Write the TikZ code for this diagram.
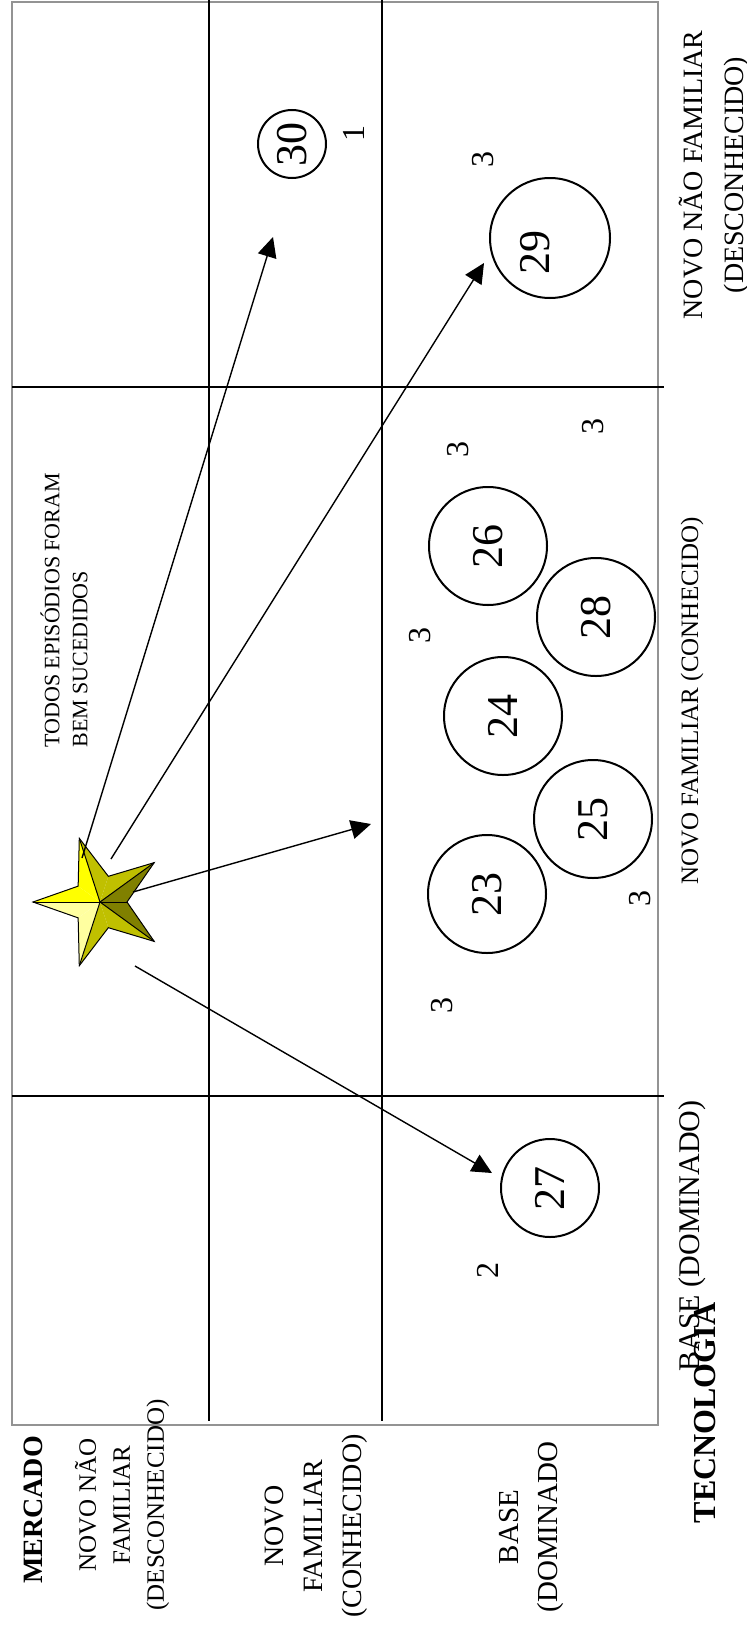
\documentclass[tikz,border=0pt]{standalone}
\usepackage{fontspec}
\setmainfont{Liberation Serif}
\usetikzlibrary{arrows.meta}

\definecolor{amarelo}{RGB}{255,255,0}
\definecolor{amareloclaro}{RGB}{255,255,160}
\definecolor{oliva}{RGB}{192,192,0}
\definecolor{olivaescura}{RGB}{128,128,0}

\begin{document}
\begin{tikzpicture}[x=0.5pt, y=-0.5pt,
	bolha/.style={circle, draw, line width=1pt, inner sep=0pt, rotate=90, font=\fontsize{22}{26}\selectfont},
	nota/.style={rotate=90, inner sep=0pt, font=\fontsize{16}{19}\selectfont},
	rotulo/.style={rotate=90, inner sep=0pt, align=center},
	seta/.style={-{Triangle[length=10pt, width=9.5pt]}, line width=0.7pt}]

\useasboundingbox (0,0) rectangle (747,1627);

% Quadro
\draw[gray!85, line width=0.9pt] (12,2) rectangle (658,1425);
	\foreach \x in {209, 382}
		\draw[line width=0.6pt] (\x,0) -- (\x,1421);
	\foreach \y in {387, 1096}
		\draw[line width=0.6pt] (12,\y) -- (664,\y);

% Bolhas
\node[bolha, minimum size=34pt] (c30) at (292,144) {30};
\node[bolha, minimum size=60pt] (c29) at (550,238) {};
\node[nota, font=\fontsize{22}{26}\selectfont] (n29) at (535,252) {29};
\node[bolha, minimum size=59pt] (c26) at (488,546) {26};
\node[bolha, minimum size=59pt] (c28) at (596,617) {28};
\node[bolha, minimum size=59pt] (c24) at (503,716) {24};
\node[bolha, minimum size=59pt] (c25) at (593,819) {25};
\node[bolha, minimum size=59pt] (c23) at (487,894) {23};
\node[bolha, minimum size=49pt] (c27) at (550,1188) {27};

% Quantidades
\node[nota] (q30) at (354,133) {1};
\node[nota] (q29) at (483,160) {3};
	\foreach \x/\y [count=\i] in {458/449, 593/426, 420/635, 640/898, 442/1005}
		\node[nota] (q\i) at (\x,\y) {3};
\node[nota] (q27) at (488,1270) {2};

% Estrela
\coordinate (estrela) at (100,902);
\begin{scope}[shift={(estrela)}, yscale=-1]
	\foreach \a/\b/\cor in {180/144/amarelo, 180/216/amareloclaro, 108/144/amarelo, 108/72/oliva,
			36/72/oliva, 36/0/olivaescura, -36/0/olivaescura, -36/-72/oliva, 252/288/oliva, 252/216/amareloclaro}
		\fill[\cor] (0,0) -- (\a:67) -- (\b:27) -- cycle;
	\draw[line width=0.5pt, line join=miter] (180:67) -- (144:27) -- (108:67) -- (72:27) -- (36:67) -- (0:27)
		-- (-36:67) -- (-72:27) -- (252:67) -- (216:27) -- cycle;
	\foreach \a in {180, 108, 36, -36, 252}
		\draw[line width=0.5pt] (0,0) -- (\a:67);
	\draw[line width=0.5pt] (0,0) -- (0:27);
\end{scope}

% Setas
\coordinate (s1) at (82,858);   \coordinate (e1) at (273,237);
\coordinate (s2) at (111,859);  \coordinate (e2) at (484,263);
\coordinate (s3) at (133,892);  \coordinate (e3) at (371,824);
\coordinate (s4) at (135,966);  \coordinate (e4) at (492,1173);
	\foreach \i in {1,...,4}
		\draw[seta] (s\i) -- (e\i);

\node[rotulo, anchor=west, align=left, font=\fontsize{11}{14}\selectfont] (titulo) at (64,748) {TODOS EPISÓDIOS FORAM\\BEM SUCEDIDOS};

% Mercado
\node[rotulo, font=\fontsize{14}{17}\selectfont\bfseries] (mercado) at (33,1510) {MERCADO};
\node[rotulo, font=\fontsize{12.5}{17}\selectfont] (mnova) at (122,1505) {NOVO NÃO\\FAMILIAR\\(DESCONHECIDO)};
\node[rotulo, font=\fontsize{14}{19.5}\selectfont] (mfam) at (316,1526) {NOVO\\FAMILIAR\\(CONHECIDO)};
\node[rotulo, font=\fontsize{14.5}{19.5}\selectfont] (mbase) at (531,1527) {BASE\\(DOMINADO};

% Tecnologia
\node[rotulo, font=\fontsize{14}{20.5}\selectfont] (tnova) at (714,175) {NOVO NÃO FAMILIAR\\(DESCONHECIDO)};
\node[rotulo, font=\fontsize{12.5}{15}\selectfont] (tfam) at (692,701) {NOVO FAMILIAR (CONHECIDO)};
\node[rotulo, font=\fontsize{15}{18}\selectfont] (tbase) at (692,1236) {BASE (DOMINADO)};
\node[rotulo, font=\fontsize{16}{19}\selectfont\bfseries] (tecnologia) at (705,1413) {TECNOLOGIA};
\end{tikzpicture}
\end{document}
